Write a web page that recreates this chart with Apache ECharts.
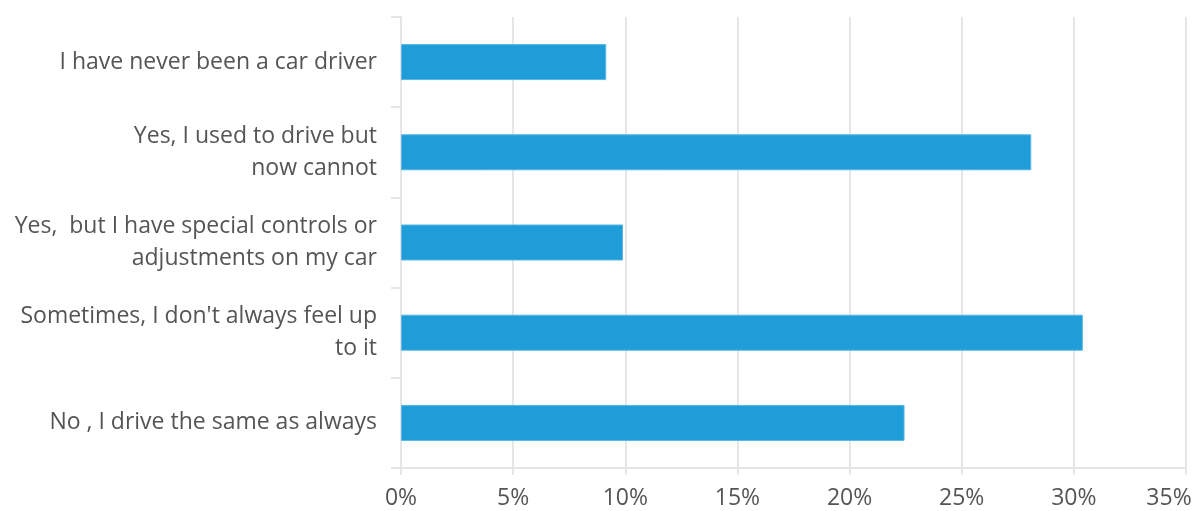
<!DOCTYPE html>
<html>
<head>
<meta charset="utf-8">
<script src="https://cdn.jsdelivr.net/npm/echarts@6/dist/echarts.min.js"></script>
<style>
  html, body { margin: 0; padding: 0; background: #fff; }
  #chart { width: 1197px; height: 511px; }
</style>
</head>
<body>
<div id="chart"></div>
<script>
// answers, top to bottom
const answers = [
    'I have never been a car driver',
    'Yes, I used to drive but\nnow cannot',
    'Yes,  but I have special controls or\nadjustments on my car',
    "Sometimes, I don't always feel up\nto it",
    'No , I drive the same as always'
]
// share of respondents, %
const shares = [9.15, 28.1, 9.9, 30.4, 22.45]
const xTicks = { min: 0, max: 35, step: 5 }

const myChart = echarts.init(document.querySelector('#chart'))
const option = {
    textStyle: {
        fontFamily: '"Open Sans", sans-serif'
    },
    grid: {
        left: 401,
        right: 11,
        top: 17,
        bottom: 43,
        outerBoundsMode: 'none'
    },
    xAxis: {
        type: 'value',
        min: xTicks.min,
        max: xTicks.max,
        interval: xTicks.step,
        axisLine: {
            show: true,
            lineStyle: { color: '#e6e6e6', width: 2 }
        },
        axisTick: {
            show: true,
            length: 7,
            lineStyle: { color: '#e6e6e6', width: 2 }
        },
        splitLine: {
            lineStyle: { color: '#e6e6e6', width: 2 }
        },
        axisLabel: {
            // last label is pulled left so it stays inside the page
            formatter: v => v === xTicks.max ? `{last|${v}%}` : `${v}%`,
            color: '#555',
            fontSize: 23,
            margin: 19,
            rich: {
                last: {
                    color: '#555',
                    fontSize: 23,
                    padding: [0, 34, 0, 0]
                }
            }
        }
    },
    yAxis: {
        type: 'category',
        inverse: true,
        data: answers,
        axisLine: {
            show: true,
            lineStyle: { color: '#e6e6e6', width: 2 }
        },
        axisTick: {
            show: true,
            length: 10,
            lineStyle: { color: '#e6e6e6', width: 2 }
        },
        axisLabel: {
            color: '#555',
            fontSize: 23,
            lineHeight: 32,
            margin: 24,
            align: 'right'
        }
    },
    series: [
        {
            type: 'bar',
            data: shares,
            barWidth: 36,
            itemStyle: {
                color: '#1e9dd8',
                borderColor: '#56b6e6',
                borderWidth: 1
            }
        }
    ]
}
myChart.setOption(option)
</script>
</body>
</html>
